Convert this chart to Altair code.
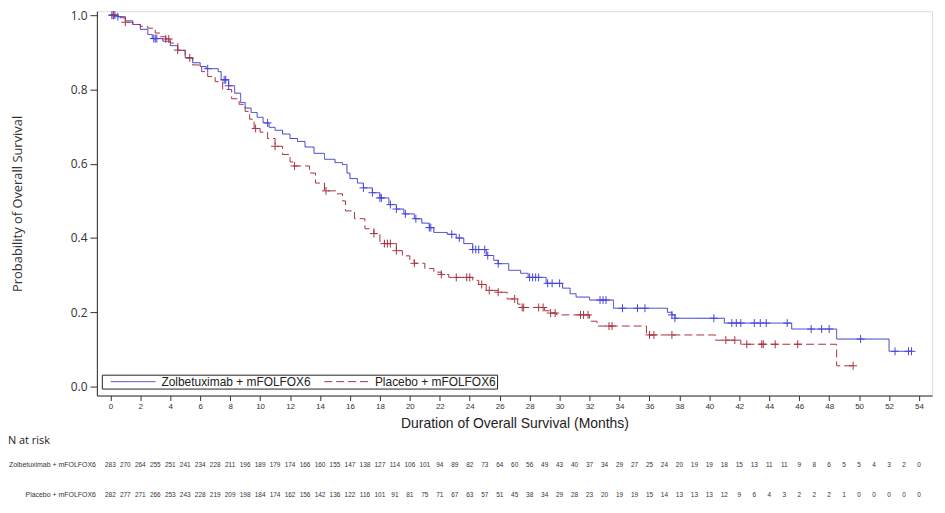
import altair as alt
import pandas as pd

ARMS = ["Zolbetuximab + mFOLFOX6", "Placebo + mFOLFOX6"]
COLORS = ["#3737c4", "#a83240"]

# Kaplan-Meier step points (time in months, survival probability)
zol_t = [0, 0.5, 1.0, 1.5, 2.0, 2.5, 2.8, 3.5, 4.0, 4.5, 5.0, 5.5, 6.0, 6.4, 7.2, 7.4, 7.9,
         8.3, 8.7, 9.0, 9.4, 9.8, 10.2, 10.6, 11.0, 11.5, 12.0, 12.5, 13.0, 13.6, 14.3, 15.0,
         15.5, 15.8, 16.0, 16.5, 16.9, 17.5, 18.0, 18.6, 19.1, 19.6, 20.3, 20.8, 21.3, 21.6,
         22.5, 23.1, 23.6, 24.2, 25.1, 25.6, 25.9, 26.6, 27.4, 27.9, 29.1, 30.2, 30.7, 31.1,
         32.0, 33.6, 37.2, 37.5, 37.7, 41.0, 45.5, 48.5, 52.0, 53.5]
zol_s = [1.0, 0.996, 0.985, 0.975, 0.962, 0.948, 0.937, 0.93, 0.918, 0.905, 0.885, 0.872,
         0.862, 0.856, 0.848, 0.826, 0.81, 0.79, 0.765, 0.75, 0.738, 0.725, 0.71, 0.698, 0.69,
         0.68, 0.668, 0.66, 0.645, 0.628, 0.612, 0.603, 0.598, 0.575, 0.56, 0.548, 0.535,
         0.522, 0.508, 0.49, 0.478, 0.465, 0.452, 0.44, 0.428, 0.415, 0.41, 0.40, 0.385,
         0.369, 0.353, 0.34, 0.331, 0.313, 0.305, 0.294, 0.278, 0.265, 0.25, 0.241, 0.233,
         0.211, 0.2, 0.193, 0.184, 0.171, 0.155, 0.128, 0.095, 0.095]

pla_t = [0, 0.5, 1.0, 1.5, 2.0, 2.5, 3.0, 3.3, 3.7, 4.0, 4.5, 5.0, 5.5, 6.1, 6.5, 7.0, 7.5,
         8.1, 8.6, 9.0, 9.3, 9.6, 10.0, 10.5, 11.0, 11.5, 12.0, 12.2, 13.3, 13.7, 14.3, 15.1,
         15.5, 15.7, 16.3, 17.0, 17.6, 18.0, 18.3, 19.1, 19.5, 20.0, 20.3, 21.0, 21.6, 22.1,
         22.6, 24.2, 24.6, 25.1, 25.9, 26.5, 27.2, 27.5, 29.0, 29.4, 29.8, 32.0, 32.5, 35.8,
         40.4, 42.1, 48.5, 49.6]
pla_s = [1.0, 0.993, 0.981, 0.975, 0.97, 0.965, 0.952, 0.942, 0.936, 0.925, 0.906, 0.885,
         0.866, 0.848, 0.835, 0.821, 0.8, 0.775, 0.76, 0.741, 0.72, 0.695, 0.685, 0.668,
         0.647, 0.625, 0.605, 0.594, 0.575, 0.548, 0.527, 0.519, 0.50, 0.473, 0.452, 0.425,
         0.412, 0.39, 0.385, 0.366, 0.352, 0.34, 0.332, 0.318, 0.308, 0.302, 0.294, 0.286,
         0.275, 0.259, 0.254, 0.236, 0.222, 0.213, 0.204, 0.198, 0.193, 0.176, 0.163, 0.139,
         0.125, 0.114, 0.056, 0.056]

# Censoring times (months)
zol_cens = [0.1, 0.2, 0.3, 0.5, 2.9, 3.0, 3.1, 6.5, 7.6, 7.7, 7.9, 10.5, 16.9, 17.5, 18.0,
            18.1, 18.7, 19.1, 19.7, 20.4, 21.3, 21.4, 22.8, 23.3, 24.2, 24.4, 24.6, 25.0,
            25.2, 25.9, 28.0, 28.2, 28.4, 28.6, 29.2, 29.5, 30.0, 32.7, 32.9, 33.1, 34.2,
            35.2, 35.7, 37.5, 37.7, 40.3, 41.5, 41.8, 42.1, 43.0, 43.4, 43.8, 45.2, 46.8,
            47.5, 48.0, 50.1, 52.4, 53.3, 53.5]
pla_cens = [0.2, 1.0, 3.7, 3.9, 4.5, 5.3, 9.7, 11.0, 12.3, 14.4, 17.6, 18.3, 18.5, 18.7,
            19.1, 20.3, 22.1, 23.1, 23.8, 24.0, 24.8, 25.3, 25.9, 27.0, 27.5, 27.6, 28.6,
            28.9, 29.4, 29.7, 31.4, 31.6, 31.9, 33.3, 33.5, 36.0, 36.3, 37.5, 41.1, 41.7,
            42.5, 43.5, 43.6, 44.4, 45.9, 49.6]

# Number at risk, every month 0..54
risk_months = list(range(0, 55))
zol_risk = [283, 270, 264, 255, 251, 241, 234, 228, 211, 196, 189, 179, 174, 166, 160, 155,
            147, 138, 127, 114, 106, 101, 94, 89, 82, 73, 64, 60, 56, 49, 43, 40, 37, 34, 29,
            27, 25, 24, 20, 19, 19, 18, 15, 13, 11, 11, 9, 8, 6, 5, 5, 4, 3, 2, 0]
pla_risk = [282, 277, 271, 266, 253, 243, 228, 219, 209, 198, 184, 174, 162, 156, 142, 136,
            122, 116, 101, 91, 81, 75, 71, 67, 63, 57, 51, 45, 38, 34, 29, 28, 23, 20, 19, 19,
            15, 14, 13, 13, 13, 12, 9, 6, 4, 3, 2, 2, 2, 1, 0, 0, 0, 0, 0]

x_ticks = list(range(0, 55, 2))
y_ticks = [0.0, 0.2, 0.4, 0.6, 0.8, 1.0]


def step_value(ts, ss, t):
    v = ss[0]
    for ti, si in zip(ts, ss):
        if ti <= t:
            v = si
    return v


curves = pd.concat([
    pd.DataFrame({"t": zol_t, "s": zol_s, "arm": ARMS[0]}),
    pd.DataFrame({"t": pla_t, "s": pla_s, "arm": ARMS[1]}),
])
cz = pd.DataFrame({"t": zol_cens, "s": [step_value(zol_t, zol_s, c) for c in zol_cens]})
cp = pd.DataFrame({"t": pla_cens, "s": [step_value(pla_t, pla_s, c) for c in pla_cens]})
risk = pd.concat([
    pd.DataFrame({"t": risk_months, "n": zol_risk, "arm": ARMS[0]}),
    pd.DataFrame({"t": risk_months, "n": pla_risk, "arm": ARMS[1]}),
])
labels = pd.DataFrame({"arm": ARMS})

XDOM = [-0.9, 54.87]
YDOM = [-0.0241, 1.0107]

x_enc = alt.X("t:Q", scale=alt.Scale(domain=XDOM, nice=False, zero=False),
              axis=alt.Axis(values=x_ticks, title="Duration of Overall Survival (Months)",
                            grid=False, domain=True, domainColor="#2a2a2a", tickSize=5,
                            labelFontSize=8,
                            labelFont="Liberation Sans", labelColor="#333", labelPadding=2,
                            titleFont="Liberation Sans", titleFontSize=14,
                            titleFontWeight="normal", titleColor="#222", titlePadding=6,
                            tickColor="#333", labelFlush=False))
y_enc = alt.Y("s:Q", scale=alt.Scale(domain=YDOM, nice=False, zero=False),
              axis=alt.Axis(values=y_ticks, format=".1f", title="Probability of Overall Survival",
                            grid=False, domain=True, domainColor="#2a2a2a", tickSize=7,
                            labelFontSize=12,
                            labelFont="Open Sans", labelColor="#333", labelPadding=3,
                            titleFont="Open Sans", titleFontSize=13, titleFontWeight="normal",
                            titleColor="#333", titlePadding=46, tickColor="#333",
                            labelFlush=False))


def make_legend():
    return alt.Legend(
        title=None, orient="none", legendX=5, legendY=366, direction="horizontal",
        strokeColor="#222", padding=1, symbolType="M0.4,0H9.4", symbolSize=100,
        symbolStrokeWidth=1, symbolOffset=0, labelFont="Liberation Sans", labelFontSize=12,
        labelColor="#222", labelOffset=47, columnPadding=5,
        labelExpr="datum.label == 'Placebo + mFOLFOX6' ? datum.label + ' ' : datum.label",
    )


lines = alt.Chart(curves).mark_line(interpolate="step-after", strokeWidth=1).encode(
    x=x_enc, y=y_enc,
    color=alt.Color("arm:N", scale=alt.Scale(domain=ARMS, range=COLORS), legend=make_legend()),
    strokeDash=alt.StrokeDash("arm:N", scale=alt.Scale(domain=ARMS, range=[[1, 0], [8, 4]]),
                              legend=make_legend()),
)

PLUS = "M-1,0H1M0,-1V1"
cens_z = alt.Chart(cz).mark_point(shape=PLUS, filled=False, size=64, strokeWidth=1,
                                  color="#4646dc", opacity=1).encode(x=x_enc, y=y_enc)
cens_p = alt.Chart(cp).mark_point(shape=PLUS, filled=False, size=64, strokeWidth=1,
                                  color=COLORS[1], opacity=1).encode(x=x_enc, y=y_enc)

main = alt.layer(lines, cens_z, cens_p)

ry = alt.Y("arm:N", scale=alt.Scale(type="point", domain=ARMS, range=[457, 487], padding=0),
           axis=None)
risk_nums = alt.Chart(risk).mark_text(font="Liberation Sans", fontSize=6.5, color="#333",
                                      align="center", baseline="middle").encode(
    x=x_enc, y=ry, text="n:Q")
risk_labels = alt.Chart(labels).mark_text(font="Liberation Sans", fontSize=7, color="#333",
                                          align="right", baseline="middle").encode(
    x=alt.value(-1), y=ry, text="arm:N")
nrisk_title = alt.Chart(pd.DataFrame({"label": ["N at risk"]})).mark_text(
    font="Open Sans", fontSize=11, color="#222", align="left", baseline="middle").encode(
    x=alt.value(-89.5), y=alt.value(433), text="label:N")

risk_layer = alt.layer(risk_nums, risk_labels, nrisk_title)

chart = alt.layer(main, risk_layer).resolve_scale(y="independent").properties(
    width=841, height=387,
    autosize=alt.AutoSizeParams(type="none"),
    padding={"left": 89.5, "top": 1.5, "right": 5, "bottom": 110},
).configure_view(stroke="#2a2a2a", strokeWidth=1).configure(background="white")

chart.save("out.html", embed_options={"renderer": "svg", "actions": False})
